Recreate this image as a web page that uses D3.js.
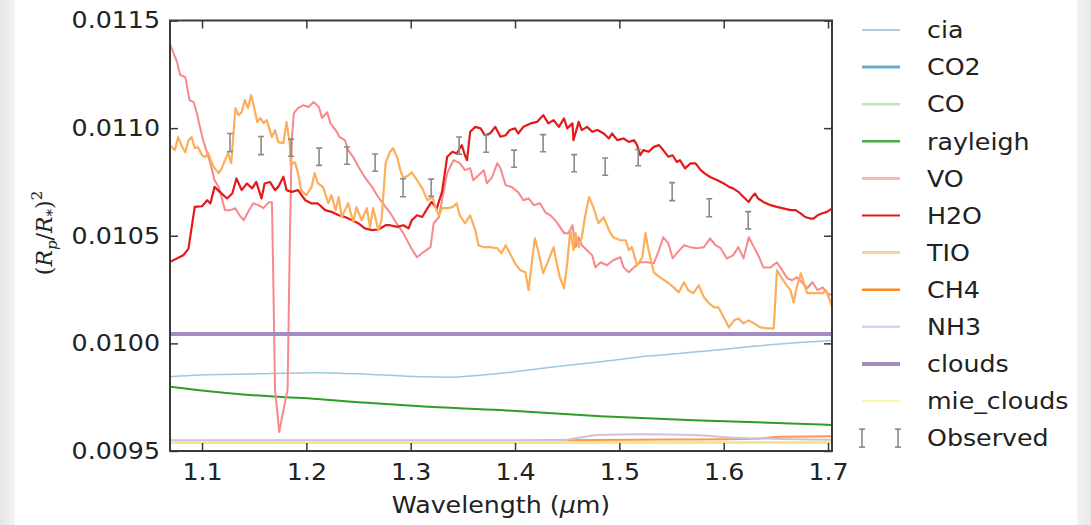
<!DOCTYPE html>
<html>
<head>
<meta charset="utf-8">
<script src="https://cdn.jsdelivr.net/npm/d3@7"></script>
<style>
body { margin: 0; background: #efefef; }
svg { display: block; font-family: "DejaVu Sans", sans-serif; }
</style>
</head>
<body>
<script>
// ---- data: [wavelength (um), (Rp/R*)^2] ----
var cia = [[1.069,0.009845],[1.098,0.009853],[1.146,0.009858],[1.210,0.009864],[1.258,0.009857],[1.309,0.009845],[1.338,0.009843],[1.386,0.009861],[1.434,0.009889],[1.482,0.009915],[1.530,0.009942],[1.578,0.009962],[1.626,0.009985],[1.673,0.010004],[1.704,0.010013]];
var rayleigh = [[1.069,0.009799],[1.146,0.009760],[1.201,0.009745],[1.258,0.009724],[1.309,0.009708],[1.386,0.009690],[1.482,0.009662],[1.578,0.009642],[1.704,0.009621]];
var clouds = [[1.069,0.010044],[1.704,0.010044]];
var mieClouds = [[1.069,0.009540],[1.704,0.009540]];
var ch4 = [[1.069,0.009549],[1.40,0.009549],[1.55,0.009553],[1.63,0.009557],[1.655,0.009566],[1.704,0.009568]];
var nh3 = [[1.069,0.009547],[1.44,0.009548],[1.46,0.009560],[1.48,0.009574],[1.52,0.009578],[1.57,0.009574],[1.61,0.009562],[1.66,0.009556],[1.704,0.009552]];

var h2o = [[1.069,0.010378],[1.082,0.010409],[1.087,0.010440],[1.093,0.010634],[1.100,0.010637],[1.105,0.010665],[1.108,0.010650],[1.112,0.010727],[1.117,0.010704],[1.124,0.010673],[1.129,0.010696],[1.133,0.010766],[1.138,0.010712],[1.143,0.010743],[1.148,0.010720],[1.152,0.010750],[1.157,0.010673],[1.160,0.010743],[1.165,0.010750],[1.170,0.010712],[1.173,0.010727],[1.178,0.010774],[1.181,0.010712],[1.186,0.010704],[1.192,0.010712],[1.199,0.010665],[1.205,0.010650],[1.211,0.010650],[1.218,0.010619],[1.224,0.010611],[1.231,0.010595],[1.237,0.010587],[1.244,0.010572],[1.250,0.010557],[1.256,0.010534],[1.263,0.010526],[1.269,0.010529],[1.276,0.010549],[1.280,0.010549],[1.287,0.010541],[1.293,0.010549],[1.298,0.010534],[1.301,0.010572],[1.306,0.010595],[1.311,0.010587],[1.316,0.010627],[1.320,0.010657],[1.325,0.010627],[1.330,0.010704],[1.335,0.010867],[1.340,0.010890],[1.344,0.010882],[1.349,0.010921],[1.352,0.010874],[1.354,0.010851],[1.357,0.010983],[1.362,0.011006],[1.367,0.010999],[1.371,0.010967],[1.376,0.010975],[1.381,0.011006],[1.386,0.010960],[1.391,0.010967],[1.395,0.010991],[1.400,0.010999],[1.403,0.010975],[1.408,0.011006],[1.415,0.011022],[1.421,0.011029],[1.427,0.011060],[1.432,0.011022],[1.437,0.011037],[1.442,0.011006],[1.447,0.011045],[1.450,0.010999],[1.455,0.011022],[1.456,0.010944],[1.461,0.011029],[1.464,0.010991],[1.469,0.011006],[1.474,0.010983],[1.479,0.010991],[1.485,0.010975],[1.490,0.010952],[1.493,0.010975],[1.498,0.010944],[1.504,0.010952],[1.509,0.010936],[1.514,0.010944],[1.517,0.010921],[1.520,0.010874],[1.523,0.010898],[1.528,0.010890],[1.533,0.010913],[1.538,0.010921],[1.542,0.010898],[1.547,0.010867],[1.551,0.010874],[1.555,0.010843],[1.558,0.010851],[1.563,0.010813],[1.568,0.010836],[1.573,0.010836],[1.578,0.010805],[1.582,0.010789],[1.587,0.010773],[1.594,0.010758],[1.600,0.010743],[1.605,0.010727],[1.609,0.010720],[1.614,0.010704],[1.619,0.010680],[1.624,0.010657],[1.627,0.010680],[1.630,0.010696],[1.633,0.010673],[1.638,0.010657],[1.645,0.010642],[1.651,0.010634],[1.657,0.010627],[1.664,0.010619],[1.669,0.010619],[1.674,0.010603],[1.678,0.010587],[1.683,0.010580],[1.686,0.010580],[1.690,0.010595],[1.694,0.010603],[1.699,0.010611],[1.704,0.010627]];

var vo = [[1.069,0.011395],[1.076,0.011308],[1.079,0.011247],[1.084,0.011237],[1.088,0.011130],[1.092,0.011121],[1.095,0.011070],[1.098,0.011005],[1.101,0.010944],[1.105,0.010884],[1.108,0.010837],[1.112,0.010758],[1.116,0.010726],[1.119,0.010674],[1.122,0.010619],[1.127,0.010619],[1.132,0.010628],[1.136,0.010595],[1.140,0.010572],[1.144,0.010609],[1.149,0.010651],[1.154,0.010642],[1.159,0.010628],[1.164,0.010656],[1.167,0.010656],[1.168,0.010386],[1.170,0.009784],[1.174,0.009588],[1.179,0.009714],[1.182,0.009784],[1.184,0.010433],[1.186,0.010944],[1.188,0.011070],[1.192,0.011093],[1.197,0.011107],[1.202,0.011098],[1.207,0.011121],[1.212,0.011098],[1.215,0.011047],[1.220,0.011074],[1.223,0.011023],[1.228,0.010991],[1.232,0.010958],[1.237,0.010944],[1.240,0.010898],[1.245,0.010865],[1.250,0.010819],[1.256,0.010772],[1.263,0.010726],[1.269,0.010679],[1.276,0.010633],[1.280,0.010609],[1.287,0.010553],[1.293,0.010512],[1.300,0.010447],[1.306,0.010400],[1.312,0.010423],[1.319,0.010447],[1.322,0.010558],[1.327,0.010586],[1.330,0.010665],[1.335,0.010791],[1.341,0.010851],[1.347,0.010837],[1.352,0.010805],[1.357,0.010814],[1.360,0.010758],[1.365,0.010781],[1.370,0.010805],[1.373,0.010744],[1.378,0.010772],[1.383,0.010837],[1.386,0.010814],[1.391,0.010735],[1.397,0.010726],[1.403,0.010702],[1.408,0.010665],[1.413,0.010674],[1.418,0.010642],[1.424,0.010651],[1.429,0.010609],[1.434,0.010595],[1.440,0.010563],[1.447,0.010512],[1.451,0.010512],[1.455,0.010549],[1.458,0.010447],[1.461,0.010493],[1.464,0.010456],[1.469,0.010433],[1.474,0.010409],[1.477,0.010353],[1.482,0.010377],[1.488,0.010363],[1.494,0.010386],[1.501,0.010400],[1.504,0.010353],[1.509,0.010330],[1.514,0.010353],[1.520,0.010377],[1.527,0.010377],[1.533,0.010372],[1.538,0.010433],[1.542,0.010493],[1.547,0.010465],[1.551,0.010395],[1.555,0.010419],[1.562,0.010456],[1.568,0.010447],[1.574,0.010442],[1.581,0.010447],[1.587,0.010488],[1.592,0.010456],[1.597,0.010442],[1.603,0.010395],[1.609,0.010409],[1.614,0.010447],[1.619,0.010395],[1.624,0.010493],[1.629,0.010447],[1.634,0.010400],[1.638,0.010353],[1.645,0.010353],[1.651,0.010377],[1.656,0.010340],[1.661,0.010302],[1.666,0.010293],[1.670,0.010307],[1.675,0.010284],[1.680,0.010256],[1.685,0.010284],[1.690,0.010247],[1.695,0.010260],[1.699,0.010233],[1.704,0.010223]];

var tio = [[1.069,0.010921],[1.074,0.010898],[1.077,0.010958],[1.081,0.010912],[1.084,0.010888],[1.087,0.010944],[1.090,0.010958],[1.093,0.010907],[1.096,0.010912],[1.100,0.010874],[1.103,0.010865],[1.106,0.010884],[1.109,0.010842],[1.112,0.010814],[1.116,0.010791],[1.119,0.010814],[1.122,0.010851],[1.125,0.010884],[1.128,0.010837],[1.132,0.011093],[1.135,0.011060],[1.138,0.011074],[1.141,0.011130],[1.144,0.011093],[1.147,0.011153],[1.149,0.011116],[1.153,0.011028],[1.156,0.011047],[1.159,0.011023],[1.162,0.011037],[1.167,0.010958],[1.170,0.010991],[1.173,0.010935],[1.178,0.010930],[1.181,0.011028],[1.184,0.010930],[1.185,0.010828],[1.189,0.010842],[1.192,0.010791],[1.195,0.010712],[1.200,0.010688],[1.205,0.010726],[1.208,0.010791],[1.211,0.010744],[1.216,0.010726],[1.221,0.010651],[1.224,0.010688],[1.228,0.010619],[1.231,0.010679],[1.234,0.010586],[1.237,0.010619],[1.240,0.010651],[1.245,0.010563],[1.248,0.010633],[1.253,0.010572],[1.258,0.010628],[1.261,0.010540],[1.264,0.010628],[1.269,0.010526],[1.272,0.010572],[1.276,0.010837],[1.280,0.010888],[1.283,0.010907],[1.287,0.010865],[1.290,0.010805],[1.293,0.010767],[1.298,0.010781],[1.301,0.010795],[1.306,0.010758],[1.311,0.010721],[1.316,0.010665],[1.321,0.010679],[1.324,0.010628],[1.327,0.010595],[1.330,0.010628],[1.335,0.010628],[1.340,0.010633],[1.344,0.010651],[1.347,0.010595],[1.352,0.010558],[1.357,0.010595],[1.362,0.010526],[1.365,0.010456],[1.370,0.010447],[1.376,0.010447],[1.383,0.010442],[1.387,0.010419],[1.391,0.010456],[1.395,0.010419],[1.400,0.010372],[1.405,0.010340],[1.410,0.010330],[1.413,0.010247],[1.416,0.010372],[1.419,0.010488],[1.422,0.010433],[1.427,0.010326],[1.432,0.010386],[1.437,0.010447],[1.440,0.010372],[1.443,0.010307],[1.447,0.010256],[1.450,0.010372],[1.453,0.010526],[1.456,0.010433],[1.458,0.010512],[1.461,0.010447],[1.464,0.010493],[1.467,0.010586],[1.471,0.010679],[1.475,0.010633],[1.480,0.010558],[1.485,0.010586],[1.490,0.010526],[1.494,0.010493],[1.501,0.010479],[1.506,0.010479],[1.509,0.010433],[1.512,0.010447],[1.517,0.010363],[1.522,0.010400],[1.525,0.010512],[1.528,0.010433],[1.533,0.010330],[1.539,0.010307],[1.546,0.010284],[1.552,0.010260],[1.557,0.010237],[1.562,0.010284],[1.566,0.010247],[1.571,0.010233],[1.576,0.010270],[1.581,0.010214],[1.586,0.010186],[1.591,0.010167],[1.595,0.010167],[1.600,0.010121],[1.605,0.010074],[1.610,0.010107],[1.614,0.010116],[1.619,0.010093],[1.624,0.010107],[1.629,0.010093],[1.635,0.010074],[1.642,0.010070],[1.648,0.010070],[1.651,0.010340],[1.654,0.010316],[1.659,0.010279],[1.664,0.010247],[1.667,0.010191],[1.670,0.010260],[1.674,0.010326],[1.677,0.010279],[1.680,0.010233],[1.685,0.010233],[1.690,0.010233],[1.695,0.010233],[1.698,0.010247],[1.701,0.010209],[1.704,0.010167]];

var obsWl = [1.1268,1.1566,1.1853,1.2122,1.2390,1.2659,1.2927,1.3196,1.3464,1.3723,1.3991,1.4269,1.4567,1.4864,1.5180,1.5506,1.5861,1.6235];
var obsVal = [0.010933,0.010919,0.010909,0.010867,0.010872,0.010840,0.010723,0.010723,0.010919,0.010928,0.010858,0.010930,0.010837,0.010821,0.010863,0.010705,0.010630,0.010572];
var obsErr = [0.000042,0.000042,0.000040,0.000040,0.000040,0.000040,0.000042,0.000040,0.000040,0.000040,0.000040,0.000040,0.000040,0.000040,0.000038,0.000042,0.000042,0.000040];

var legendNames = ["cia","CO2","CO","rayleigh","VO","H2O","TIO","CH4","NH3","clouds","mie_clouds","Observed"];
var xTicks = [1.1,1.2,1.3,1.4,1.5,1.6,1.7];
var yTicks = [0.0095,0.0100,0.0105,0.0110,0.0115];

// styles (plot stroke, legend stroke, width)
var style = {
  "cia":        {c:"#9cc8e2", lc:"#a9d0e6", w:1.5, lw:1.8},
  "CO2":        {c:"#6fa8d3", lc:"#6fa8d3", w:3,   lw:3},
  "CO":         {c:"#c3e5a5", lc:"#c3e5a5", w:2.5, lw:2.5},
  "rayleigh":   {c:"#2e9e2a", lc:"#4aae45", w:2,   lw:2.5},
  "VO":         {c:"#f8898b", lc:"#fbb6b6", w:2,   lw:3},
  "H2O":        {c:"#e31a1c", lc:"#e31a1c", w:2.2, lw:2.2},
  "TIO":        {c:"#fdae5a", lc:"#fdd0a0", w:2.2, lw:3},
  "CH4":        {c:"#fd9a45", lc:"#ff8a1f", w:2,   lw:2.5},
  "NH3":        {c:"#d2bfe0", lc:"#d8c8e6", w:2,   lw:2},
  "clouds":     {c:"#a68bc2", lc:"#a68bc2", w:4,   lw:4},
  "mie_clouds": {c:"#f6e78a", lc:"#faf6a8", w:3,   lw:2}
};

var width = 1091, height = 525;
var svg = d3.select("body").append("svg")
  .attr("width", width)
  .attr("height", height);

// backdrop: grey edges, white figure
var defs = svg.append("defs");
var lg = defs.append("linearGradient").attr("id","edgeL");
lg.append("stop").attr("offset","0").attr("stop-color","#e6e6e6");
lg.append("stop").attr("offset","1").attr("stop-color","#f4f4f4");
var rg = defs.append("linearGradient").attr("id","edgeR");
rg.append("stop").attr("offset","0").attr("stop-color","#f2f2f2");
rg.append("stop").attr("offset","1").attr("stop-color","#e8e8e8");
svg.append("rect").attr("width",15).attr("height",height).attr("fill","url(#edgeL)");
svg.append("rect").attr("x",1077).attr("width",14).attr("height",height).attr("fill","url(#edgeR)");
svg.append("rect").attr("x",15).attr("width",1062).attr("height",height).attr("fill","#ffffff");

var x = d3.scaleLinear().domain([1.0693, 1.7038]).range([170, 832]);
var y = d3.scaleLinear().domain([0.0095, 0.0115]).range([451, 20.5]);

defs.append("clipPath").attr("id","plotclip")
  .append("rect").attr("x",170).attr("y",20.5).attr("width",662).attr("height",430.5);

var line = d3.line().x(function(d){ return x(d[0]); }).y(function(d){ return y(d[1]); });
var smooth = d3.line().curve(d3.curveMonotoneX).x(function(d){ return x(d[0]); }).y(function(d){ return y(d[1]); });

var plot = svg.append("g").attr("clip-path","url(#plotclip)");

var series = [
  ["cia", cia, smooth],
  ["rayleigh", rayleigh, smooth],
  ["VO", vo, line],
  ["H2O", h2o, line],
  ["TIO", tio, line],
  ["CH4", ch4, smooth],
  ["NH3", nh3, smooth],
  ["clouds", clouds, line],
  ["mie_clouds", mieClouds, line]
];

series.forEach(function(s) {
  plot.append("path")
    .attr("d", s[2](s[1]))
    .attr("fill","none")
    .attr("stroke", style[s[0]].c)
    .attr("stroke-width", style[s[0]].w)
    .attr("stroke-linejoin","round");
});

// observed error bars
var obs = d3.zip(obsWl, obsVal, obsErr);
var eb = plot.selectAll("g.eb").data(obs).enter().append("g")
  .attr("stroke","#8a8a8a").attr("stroke-width",1.6);
eb.append("line")
  .attr("x1", function(d){ return x(d[0]); }).attr("x2", function(d){ return x(d[0]); })
  .attr("y1", function(d){ return y(d[1]-d[2]); }).attr("y2", function(d){ return y(d[1]+d[2]); });
eb.append("line")
  .attr("x1", function(d){ return x(d[0])-3; }).attr("x2", function(d){ return x(d[0])+3; })
  .attr("y1", function(d){ return y(d[1]-d[2]); }).attr("y2", function(d){ return y(d[1]-d[2]); });
eb.append("line")
  .attr("x1", function(d){ return x(d[0])-3; }).attr("x2", function(d){ return x(d[0])+3; })
  .attr("y1", function(d){ return y(d[1]+d[2]); }).attr("y2", function(d){ return y(d[1]+d[2]); });

// axes, ticks pointing inward
function styleAxis(g) {
  g.select(".domain").remove();
  g.selectAll(".tick line").attr("stroke","#3a3a3a").attr("stroke-width",1.5);
  g.selectAll("text").attr("fill","#222").attr("font-size","23px").attr("font-family","DejaVu Sans");
}

svg.append("g").attr("transform","translate(0,451)")
  .call(d3.axisBottom(x).tickValues(xTicks).tickSize(-8).tickFormat(d3.format(".1f")))
  .call(styleAxis)
  .selectAll("text").attr("y",0).attr("transform","translate(0,13) scale(1.1,1)");

svg.append("g").attr("transform","translate(0,20.5)")
  .call(d3.axisTop(x).tickValues(xTicks).tickSize(-8).tickFormat(""))
  .call(styleAxis);

svg.append("g").attr("transform","translate(170,0)")
  .call(d3.axisLeft(y).tickValues(yTicks).tickSize(-8).tickFormat(d3.format(".4f")))
  .call(styleAxis)
  .selectAll("text").attr("x",0).attr("transform","translate(-10,0) scale(1.1,1)");

svg.append("g").attr("transform","translate(832,0)")
  .call(d3.axisRight(y).tickValues(yTicks).tickSize(-8).tickFormat(""))
  .call(styleAxis);

svg.append("rect")
  .attr("x",170).attr("y",20.5).attr("width",662).attr("height",430.5)
  .attr("fill","none").attr("stroke","#3a3a3a").attr("stroke-width",2);

// axis labels
var xl = svg.append("text")
  .attr("transform","translate(501,513) scale(1.1,1)")
  .attr("text-anchor","middle").attr("font-size","23px").attr("fill","#222");
xl.append("tspan").text("Wavelength (");
xl.append("tspan").attr("font-style","italic").text("\u03bc");
xl.append("tspan").text("m)");

var yl = svg.append("text")
  .attr("transform","translate(52,233) rotate(-90)")
  .attr("text-anchor","middle").attr("font-size","22px").attr("fill","#222")
  .attr("font-family","DejaVu Serif");
yl.append("tspan").text("(");
yl.append("tspan").attr("font-style","italic").text("R");
yl.append("tspan").attr("font-style","italic").attr("font-size","15px").attr("dy",5).text("p");
yl.append("tspan").attr("dy",-5).text("/");
yl.append("tspan").attr("font-style","italic").text("R");
yl.append("tspan").attr("font-size","15px").attr("dy",5).text("*");
yl.append("tspan").attr("dy",-5).text(")");
yl.append("tspan").attr("font-size","15px").attr("dy",-10).text("2");

// legend
var legend = svg.append("g");
legendNames.forEach(function(name, i) {
  var ry = 30 + i * 37.1;
  if (name === "Observed") {
    [862, 898].forEach(function(cx) {
      var g = legend.append("g").attr("stroke","#8a8a8a").attr("stroke-width",1.6);
      g.append("line").attr("x1",cx).attr("x2",cx).attr("y1",ry-9).attr("y2",ry+9);
      g.append("line").attr("x1",cx-3).attr("x2",cx+3).attr("y1",ry-9).attr("y2",ry-9);
      g.append("line").attr("x1",cx-3).attr("x2",cx+3).attr("y1",ry+9).attr("y2",ry+9);
    });
  } else {
    legend.append("line")
      .attr("x1",862).attr("x2",900).attr("y1",ry).attr("y2",ry)
      .attr("stroke", style[name].lc).attr("stroke-width", style[name].lw);
  }
  legend.append("text")
    .attr("transform","translate(927," + ry + ") scale(1.1,1)")
    .attr("dy","0.36em").attr("font-size","23px").attr("fill","#222")
    .text(name);
});
</script>
</body>
</html>
